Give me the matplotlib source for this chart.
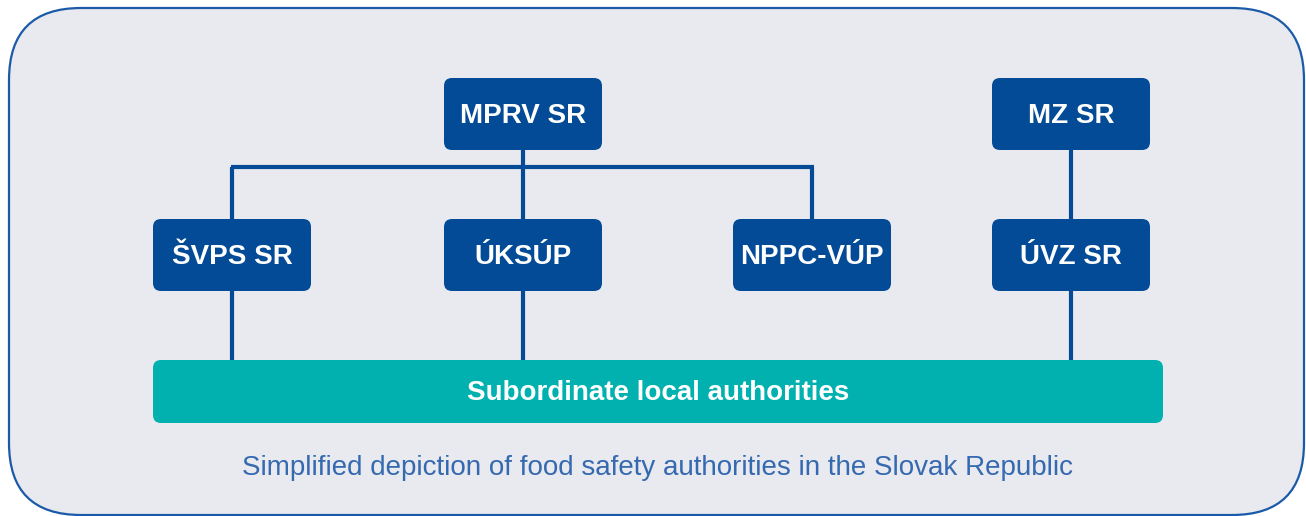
import matplotlib
matplotlib.use("Agg")
import matplotlib.pyplot as plt
from matplotlib.patches import FancyBboxPatch

# Diagram content
box_labels = ["MPRV SR", "ŠVPS SR", "ÚKSÚP", "NPPC-VÚP", "MZ SR", "ÚVZ SR"]
bar_label = "Subordinate local authorities"
caption = "Simplified depiction of food safety authorities in the Slovak Republic"

# Layout (pixel coordinates, y downward)
box_pos = {  # left, top
    "MPRV SR": (444, 78),
    "ŠVPS SR": (153, 219),
    "ÚKSÚP": (444, 219),
    "NPPC-VÚP": (733, 219),
    "MZ SR": (992, 78),
    "ÚVZ SR": (992, 219),
}
BW, BH = 158, 72
W, H = 1306, 516
DARK = "#034B96"
TEAL = "#00B1AF"
BG = "#E9EAEF"
EDGE = "#1B5AA8"
CAP = "#3569B0"

plt.rcParams['font.family'] = ['Liberation Sans', 'DejaVu Sans']
fig = plt.figure(figsize=(W / 100, H / 100), dpi=100)
ax = fig.add_axes([0, 0, 1, 1])
ax.set_xlim(0, W)
ax.set_ylim(H, 0)
ax.axis("off")

# Outer rounded panel
ax.add_patch(FancyBboxPatch((9, 8), 1295, 507,
                            boxstyle="round,pad=0,rounding_size=72",
                            facecolor=BG, edgecolor=EDGE, linewidth=1.6, zorder=0))

lw = 3.0
def line(xs, ys):
    ax.plot(xs, ys, color=DARK, linewidth=lw, solid_capstyle="butt", zorder=1)

cx = {k: v[0] + BW / 2 for k, v in box_pos.items()}
# MPRV connections
line([cx["MPRV SR"], cx["MPRV SR"]], [150, 167])
line([cx["ŠVPS SR"] - 1.5, cx["NPPC-VÚP"] + 1.5], [167, 167])
for k in ["ŠVPS SR", "ÚKSÚP", "NPPC-VÚP"]:
    line([cx[k], cx[k]], [167, 219])
line([cx["MZ SR"], cx["MZ SR"]], [150, 219])
for k in ["ŠVPS SR", "ÚKSÚP", "ÚVZ SR"]:
    line([cx[k], cx[k]], [291, 361])

for lab in box_labels:
    x, y = box_pos[lab]
    ax.add_patch(FancyBboxPatch((x, y), BW, BH,
                                boxstyle="round,pad=0,rounding_size=8",
                                facecolor=DARK, edgecolor="none", zorder=2))
    ax.text(x + BW / 2, y + BH / 2 + 2, lab, color="white", fontsize=20,
            fontweight="bold", ha="center", va="center", zorder=3)

# Teal bar
ax.add_patch(FancyBboxPatch((153, 360), 1010, 63,
                            boxstyle="round,pad=0,rounding_size=8",
                            facecolor=TEAL, edgecolor="none", zorder=2))
ax.text(658, 393, bar_label, color="white", fontsize=20, fontweight="bold",
        ha="center", va="center", zorder=3)

ax.text(658, 468, caption, color=CAP, fontsize=20, ha="center", va="center")

fig.savefig("out.png", dpi=100, facecolor="white")
